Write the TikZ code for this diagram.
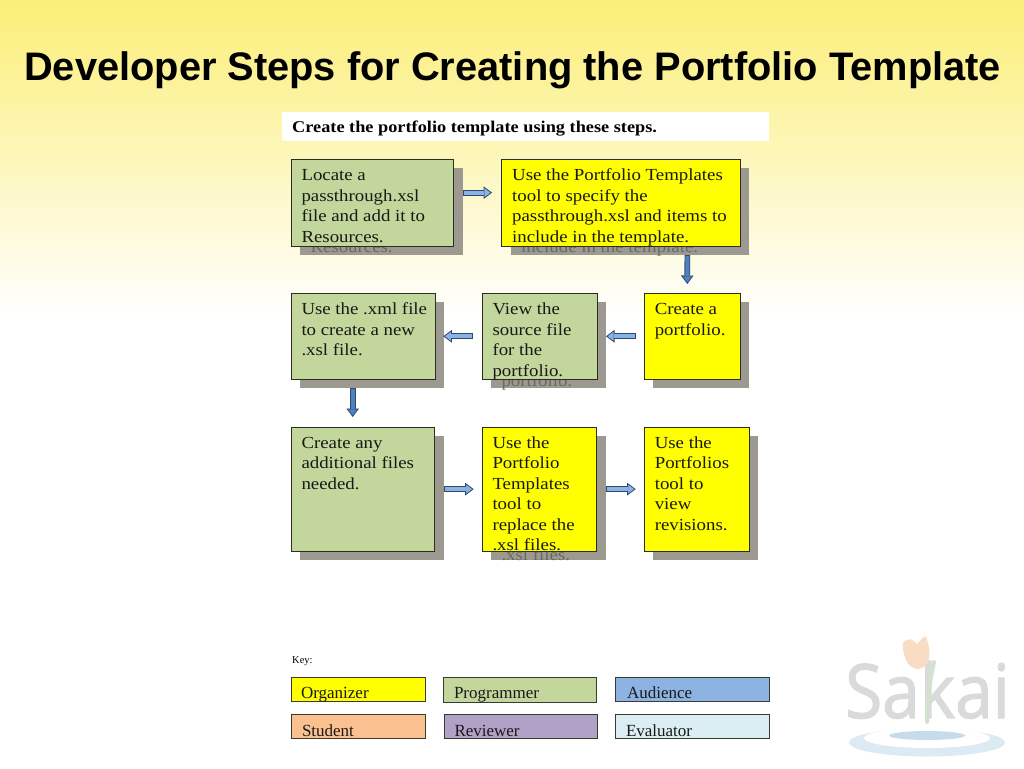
\documentclass[tikz,border=0pt]{standalone}
\usepackage{fontspec}
\usetikzlibrary{arrows.meta}
\setmainfont{Liberation Serif}
\newfontfamily\titlef{Liberation Sans}
\newfontfamily\bodyf[FakeStretch=1.115]{Liberation Serif}
\newfontfamily\logof[FakeStretch=0.9,FakeBold=1.6]{Open Sans}
\definecolor{stepgreen}{HTML}{C3D69B}
\definecolor{stepyellow}{HTML}{FFFF00}
\definecolor{stepedge}{HTML}{2A2D20}
\definecolor{shadowgray}{HTML}{9C9A90}
\definecolor{ghostgray}{HTML}{6A6862}
\definecolor{arrowedge}{HTML}{2B4A73}
\definecolor{arrowlight}{HTML}{8DB3E2}
\definecolor{arrowdark}{HTML}{4F81BD}
\definecolor{keyblue}{HTML}{8DB3E2}
\definecolor{keyorange}{HTML}{FAC090}
\definecolor{keypurple}{HTML}{B2A1C7}
\definecolor{keypale}{HTML}{DBEEF4}
\definecolor{keyedge}{HTML}{3A3A30}
\definecolor{logogray}{HTML}{D9DBDB}
\definecolor{bgtop}{HTML}{FBEE78}
\definecolor{ripple}{HTML}{DCEAF3}
\definecolor{rippledeep}{HTML}{C6DCEB}
\definecolor{tulip}{HTML}{F9DCC4}
\definecolor{stemgreen}{HTML}{D3E2CF}
\tikzset{
  boxshape/.style={draw=stepedge,line width=1pt,inner sep=0pt,outer sep=0pt,anchor=north west},
  shadowshape/.style={fill=shadowgray,inner sep=0pt,outer sep=0pt,anchor=north west},
  bodytext/.style={inner sep=0pt,outer sep=0pt,anchor=north west,align=left,text=black!90,
    font=\bodyf\fontsize{16.9}{20.5}\selectfont},
  ghosttext/.style={inner sep=0pt,outer sep=0pt,anchor=base west,text=ghostgray,
    font=\bodyf\fontsize{16.9}{20.5}\selectfont},
  keybox/.style={draw=keyedge,line width=1pt,inner sep=0pt,outer sep=0pt,anchor=north west},
  keytext/.style={inner sep=0pt,outer sep=0pt,anchor=base west,text=black!90,
    font=\fontsize{17}{19}\selectfont},
  blockarrow/.style={draw=arrowedge,line width=5.7pt,
    -{Triangle[length=8.5pt,width=12.5pt,line width=.8pt,color=arrowedge,fill=#1]},
    postaction={draw=#1,line width=4.1pt,-,shorten >=8pt,shorten <=.8pt}},
}
% name, x1, y1, x2, y2, fill, lines (text), last line number, ghost text
\newcommand{\stepbox}[9]{%
  \pgfmathsetmacro{\wid}{#4-#2}\pgfmathsetmacro{\hei}{#5-#3}%
  \node[shadowshape,minimum width=\wid pt,minimum height=\hei pt] (#1s) at (#2+9,#3+8.7) {};
  \ifx&#9&\else
    \node[ghosttext] (#1g) at (#2+19.5,#3+21.4+20.5*#8-20.5+10) {#9};
  \fi
  \node[boxshape,fill=#6,minimum width=\wid pt,minimum height=\hei pt] (#1) at (#2,#3) {};
  \node[bodytext] (#1t) at (#2+10.5,#3+21.4-12) {\rule{0pt}{12pt}#7};
}
\begin{document}
\begin{tikzpicture}[x=1pt,y=-1pt]
\useasboundingbox (0,0) rectangle (1024,768);
\fill[white] (0,0) rectangle (1024,768);
\shade[top color=bgtop,bottom color=white,draw=none] (0,0) rectangle (1024,320);
\node[inner sep=0pt,anchor=base west,font=\titlef\bfseries\fontsize{39.8}{44}\selectfont] (title) at (24,80)
  {Developer Steps for Creating the Portfolio Template};
\fill[white] (282,112) rectangle (769,140.5);
\node[inner sep=0pt,anchor=base west,font=\bodyf\bfseries\fontsize{16.4}{18}\selectfont] (intro) at (292,132.7)
  {Create the portfolio template using these steps.};

\stepbox{sa}{291}{159.3}{453.7}{246}{stepgreen}{Locate a\\passthrough.xsl\\file and add it to\\Resources.}{4}{Resources.}
\stepbox{sb}{501.7}{159.3}{740}{246}{stepyellow}{Use the Portfolio Templates\\tool to specify the\\passthrough.xsl and items to\\include in the template.}{4}{include in the template.}
\stepbox{sc}{644.3}{293.3}{740}{379.3}{stepyellow}{Create a\\portfolio.}{2}{}
\stepbox{sd}{482}{293.3}{597.3}{379.3}{stepgreen}{View the\\source file\\for the\\portfolio.}{4}{portfolio.}
\stepbox{se}{291}{293.3}{435}{379.3}{stepgreen}{Use the .xml file\\to create a new\\.xsl file.}{3}{}
\stepbox{sf}{291}{427}{434.7}{551.3}{stepgreen}{Create any\\additional files\\needed.}{3}{}
\stepbox{sg}{482}{427}{596.7}{551.3}{stepyellow}{Use the\\Portfolio\\Templates\\tool to\\replace the\\.xsl files.}{6}{.xsl files.}
\stepbox{sh}{644.3}{427}{749.3}{551.3}{stepyellow}{Use the\\Portfolios\\tool to\\view\\revisions.}{5}{}

\draw[blockarrow=arrowlight] ([xshift=9pt,yshift=10pt]sa.east) -- ([xshift=-9.7pt,yshift=10pt]sb.west);
\draw[blockarrow=arrowdark] ([xshift=66.5pt,yshift=-9pt]sb.south) -- ([xshift=-4.85pt,yshift=9.3pt]sc.north);
\draw[blockarrow=arrowlight] ([xshift=-8.6pt]sc.west) -- ([xshift=8.7pt]sd.east);
\draw[blockarrow=arrowlight] ([xshift=-9.3pt]sd.west) -- ([xshift=8.3pt]se.east);
\draw[blockarrow=arrowdark] ([xshift=-10.3pt,yshift=-8.7pt]se.south) -- ([xshift=-10.15pt,yshift=10pt]sf.north);
\draw[blockarrow=arrowlight] ([xshift=9.3pt]sf.east) -- ([xshift=-8.3pt]sg.west);
\draw[blockarrow=arrowlight] ([xshift=9pt]sg.east) -- ([xshift=-8.6pt]sh.west);

\node[inner sep=0pt,anchor=base west,font=\fontsize{10.5}{12}\selectfont] (keylabel) at (292,663.7) {Key:};
\node[keybox,fill=stepyellow,minimum width=134pt,minimum height=24pt] (ka) at (291,677.3) {};
\node[keybox,fill=stepgreen,minimum width=153pt,minimum height=25pt] (kb) at (443.7,677.3) {};
\node[keybox,fill=keyblue,minimum width=153.7pt,minimum height=24pt] (kc) at (615.3,677.3) {};
\node[keybox,fill=keyorange,minimum width=134pt,minimum height=24pt] (kd) at (291,714.7) {};
\node[keybox,fill=keypurple,minimum width=153pt,minimum height=24pt] (ke) at (444,714.7) {};
\node[keybox,fill=keypale,minimum width=153.7pt,minimum height=24pt] (kf) at (615.3,714.7) {};
\node[keytext] (kat) at (301,698.7) {Organizer};
\node[keytext] (kbt) at (454,698.7) {Programmer};
\node[keytext] (kct) at (627,698.7) {Audience};
\node[keytext] (kdt) at (302,736.2) {Student};
\node[keytext] (ket) at (454.5,736.2) {Reviewer};
\node[keytext] (kft) at (626,736.2) {Evaluator};

% logo
\fill[ripple] (927,742.5) ellipse [x radius=78,y radius=14];
\fill[white] (927,738) ellipse [x radius=63,y radius=10];
\fill[rippledeep] (927,735.5) ellipse [x radius=38,y radius=4.5];
\node[inner sep=0pt,anchor=base west,text=logogray,font=\logof\fontsize{75}{80}\selectfont] (logo) at (845,718) {Sakai};
\draw[line width=4pt,line cap=round,draw=stemgreen] (934,662) .. controls (930,680) and (927,700) .. (927,722);
\fill[tulip] (903,643) .. controls (908,636) and (914,640) .. (917,644)
  .. controls (921,640) and (924,635) .. (926,637) .. controls (931,650) and (931,664) .. (922,668)
  .. controls (915,671) and (908,666) .. (906,660) .. controls (904,654) and (902,648) .. (903,643) -- cycle;
\end{tikzpicture}
\end{document}
